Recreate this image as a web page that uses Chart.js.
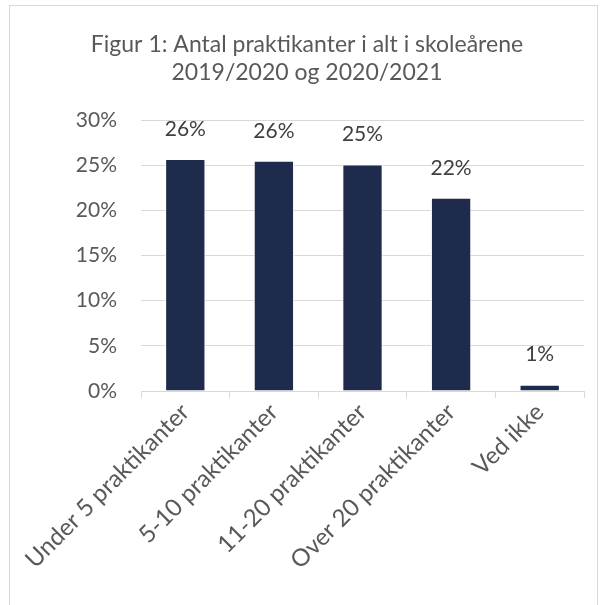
<!DOCTYPE html>
<html>
<head>
<meta charset="utf-8">
<script src="https://cdn.jsdelivr.net/npm/chart.js@4"></script>
<style>
  html, body { margin: 0; padding: 0; background: #fff; }
  #wrap { position: relative; width: 606px; height: 605px; }
  #frame { position: absolute; left: 9px; top: 5px; width: 589px; height: 620px; border: 1px solid #d9d9d9; box-sizing: border-box; }
  canvas { position: absolute; left: 0; top: 0; }
</style>
</head>
<body>
<div id="wrap">
  <div id="frame"></div>
  <canvas id="chart" width="606" height="605"></canvas>
</div>
<script>
const categories = ['Under 5 praktikanter', '5-10 praktikanter', '11-20 praktikanter', 'Over 20 praktikanter', 'Ved ikke'];
const shares = [25.7, 25.5, 25.1, 21.4, 0.7];
const shownLabels = ['26%', '26%', '25%', '22%', '1%'];
const yTicks = [0, 5, 10, 15, 20, 25, 30];

const fontName = 'Lato, "Open Sans", sans-serif';

// draw the value labels above each bar
const valueLabels = {
  id: 'valueLabels',
  afterDatasetsDraw(chart) {
    const ctx = chart.ctx;
    const meta = chart.getDatasetMeta(0);
    ctx.save();
    ctx.font = '21px ' + fontName;
    ctx.fillStyle = '#404040';
    ctx.textAlign = 'center';
    ctx.textBaseline = 'middle';
    meta.data.forEach((bar, i) => {
      ctx.fillText(shownLabels[i], bar.x, bar.y - 30);
    });
    ctx.restore();
  }
};

new Chart(document.getElementById('chart'), {
  type: 'bar',
  data: {
    labels: categories,
    datasets: [{
      data: shares,
      backgroundColor: '#1f2b4d',
      borderColor: '#ffffff',
      borderWidth: { left: 1, right: 1, top: 1, bottom: 0 },
      categoryPercentage: 1,
      barPercentage: 0.455
    }]
  },
  options: {
    responsive: false,
    animation: false,
    layout: { padding: { left: 30, right: 22, top: 0, bottom: 14 } },
    plugins: {
      legend: { display: false },
      tooltip: { enabled: false },
      title: {
        display: true,
        text: ['Figur 1: Antal praktikanter i alt i skoleårene', '2019/2020 og 2020/2021'],
        color: '#595959',
        font: { family: fontName, size: 23, weight: 'normal', lineHeight: 1.2 },
        padding: { top: 31, bottom: 34 }
      }
    },
    scales: {
      x: {
        grid: { display: true, drawOnChartArea: false, offset: true, color: '#d9d9d9', tickLength: 7 },
        border: { color: '#d9d9d9' },
        ticks: {
          color: '#595959',
          font: { family: fontName, size: 24 },
          maxRotation: 45,
          minRotation: 45,
          padding: 0
        },
        afterFit(s) { s.height = 605 - 391 - 14; }
      },
      y: {
        min: 0,
        max: 30,
        afterBuildTicks(s) { s.ticks = yTicks.map(v => ({ value: v })); },
        grid: { color: '#d9d9d9', drawTicks: false },
        border: { display: false },
        ticks: {
          color: '#595959',
          font: { family: fontName, size: 21 },
          padding: 24,
          callback: v => v + '%'
        },
        afterFit(s) { s.width = 141 - 30; }
      }
    }
  },
  plugins: [valueLabels]
});
</script>
</body>
</html>
